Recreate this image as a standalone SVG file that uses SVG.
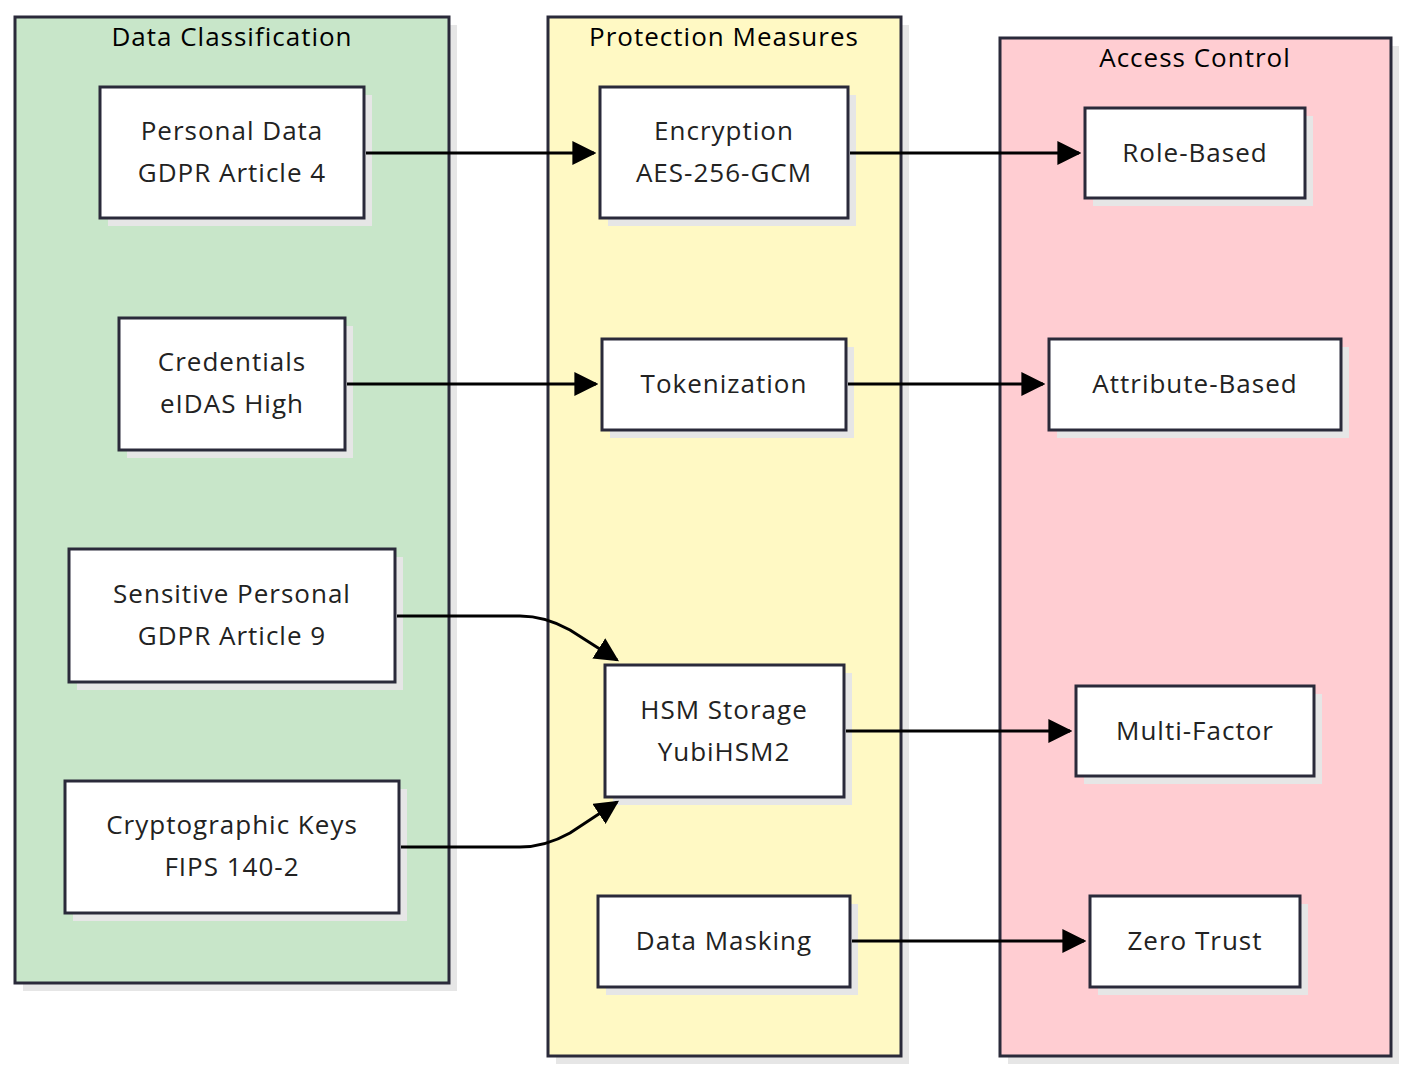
<svg xmlns="http://www.w3.org/2000/svg" width="1407" height="1074" viewBox="0 0 1407 1074">
<style>
text{font-family:"Open Sans","Liberation Sans",sans-serif;font-size:26px;fill:#222;text-anchor:middle;letter-spacing:1px}
.t{fill:#000}
.sh{fill:#e6e6e6}
.n{fill:#fff;stroke:#2a2a3a;stroke-width:3}
.c{stroke:#2a2a3a;stroke-width:3}
.e{fill:none;stroke:#000;stroke-width:3;marker-end:url(#a)}
</style>
<defs><marker id="a" viewBox="0 0 10 10" refX="9" refY="5" markerWidth="24" markerHeight="24" markerUnits="userSpaceOnUse" orient="auto"><path d="M0,0L10,5L0,10z" fill="#000"/></marker></defs>
<g id="cluster-data"><rect class="sh" x="23" y="25" width="434" height="966"/><rect class="c" x="15" y="17" width="434" height="966" fill="#c8e6c9"/><text class="t" x="232" y="46">Data Classification</text></g>
<g id="cluster-protection"><rect class="sh" x="556" y="25" width="353" height="1039"/><rect class="c" x="548" y="17" width="353" height="1039" fill="#fff9c4"/><text class="t" x="724" y="46">Protection Measures</text></g>
<g id="cluster-access"><rect class="sh" x="1008" y="46" width="391" height="1018"/><rect class="c" x="1000" y="38" width="391" height="1018" fill="#ffcdd2"/><text class="t" x="1195" y="67">Access Control</text></g>
<g id="personal"><rect class="sh" x="108" y="95" width="264" height="131"/><rect class="n" x="100" y="87" width="264" height="131"/><text x="232" y="140">Personal Data</text><text x="232" y="182">GDPR Article 4</text></g>
<g id="credentials"><rect class="sh" x="127" y="326" width="226" height="132"/><rect class="n" x="119" y="318" width="226" height="132"/><text x="232" y="371">Credentials</text><text x="232" y="413">eIDAS High</text></g>
<g id="sensitive"><rect class="sh" x="77" y="557" width="326" height="133"/><rect class="n" x="69" y="549" width="326" height="133"/><text x="232" y="603">Sensitive Personal</text><text x="232" y="645">GDPR Article 9</text></g>
<g id="keys"><rect class="sh" x="73" y="789" width="334" height="132"/><rect class="n" x="65" y="781" width="334" height="132"/><text x="232" y="834">Cryptographic Keys</text><text x="232" y="876">FIPS 140-2</text></g>
<g id="encryption"><rect class="sh" x="608" y="95" width="248" height="131"/><rect class="n" x="600" y="87" width="248" height="131"/><text x="724" y="140">Encryption</text><text x="724" y="182">AES-256-GCM</text></g>
<g id="tokenization"><rect class="sh" x="610" y="347" width="244" height="91"/><rect class="n" x="602" y="339" width="244" height="91"/><text x="724" y="393">Tokenization</text></g>
<g id="hsm"><rect class="sh" x="613" y="673" width="239" height="132"/><rect class="n" x="605" y="665" width="239" height="132"/><text x="724" y="719">HSM Storage</text><text x="724" y="761">YubiHSM2</text></g>
<g id="masking"><rect class="sh" x="606" y="904" width="252" height="91"/><rect class="n" x="598" y="896" width="252" height="91"/><text x="724" y="950">Data Masking</text></g>
<g id="role"><rect class="sh" x="1093" y="116" width="220" height="90"/><rect class="n" x="1085" y="108" width="220" height="90"/><text x="1195" y="162">Role-Based</text></g>
<g id="attr"><rect class="sh" x="1057" y="347" width="292" height="91"/><rect class="n" x="1049" y="339" width="292" height="91"/><text x="1195" y="393">Attribute-Based</text></g>
<g id="mfa"><rect class="sh" x="1084" y="694" width="238" height="90"/><rect class="n" x="1076" y="686" width="238" height="90"/><text x="1195" y="740">Multi-Factor</text></g>
<g id="zt"><rect class="sh" x="1098" y="904" width="210" height="91"/><rect class="n" x="1090" y="896" width="210" height="91"/><text x="1195" y="950">Zero Trust</text></g>
<g id="connectors">
<path class="e" d="M366,153H594"/>
<path class="e" d="M347,384H596"/>
<path class="e" d="M397,616H520Q545,616 570,630L617,660"/>
<path class="e" d="M401,847H520Q545,847 570,833L617,802"/>
<path class="e" d="M850,153H1079"/>
<path class="e" d="M848,384H1043"/>
<path class="e" d="M846,731H1070"/>
<path class="e" d="M852,941H1084"/>
</g>
</svg>
